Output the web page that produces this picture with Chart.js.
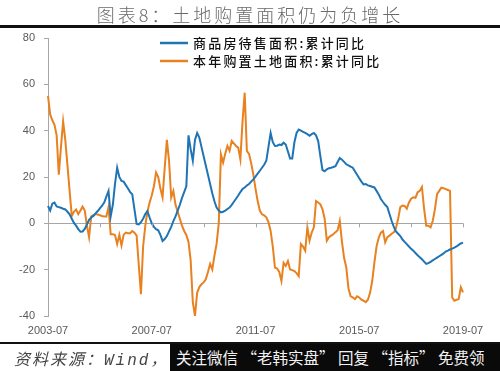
<!DOCTYPE html>
<html>
<head>
<meta charset="utf-8">
<script src="https://cdn.jsdelivr.net/npm/chart.js@4/dist/chart.umd.min.js"></script>
<style>
  html, body { margin:0; padding:0; background:#fff; }
  #wrap { position:relative; width:500px; height:371px; overflow:hidden; background:#fff; }
  #title { position:absolute; left:0; top:2px; width:500px; text-align:center; font-family:"Noto Sans CJK SC"; font-weight:300; font-size:18px; letter-spacing:3px; color:#6a6a6a; line-height:24px; }
  #topline { position:absolute; left:0; top:25px; width:500px; height:3px; background:#111; }
  #botline { position:absolute; left:0; top:342px; width:500px; height:2px; background:#111; }
  #source { position:absolute; left:14px; top:346px; font-family:"Noto Sans CJK SC"; font-style:italic; font-size:16px; color:#444; line-height:24px; letter-spacing:2px; }
  #source span { font-family:"Liberation Mono"; font-style:italic; }
  #wm { position:absolute; left:170px; top:344px; width:330px; height:27px; background:#0a0a0a; color:#f2f2f2; font-family:"Noto Sans CJK SC"; font-size:15.5px; line-height:27px; padding-left:6px; box-sizing:border-box; white-space:nowrap; }
  canvas { position:absolute; left:0; top:0; }
</style>
</head>
<body>
<div id="wrap">
  <canvas id="c" width="500" height="371"></canvas>
  <div id="title">图表8：土地购置面积仍为负增长</div>
  <div id="topline"></div>
  <div id="botline"></div>
  <div id="source">资料来源：<span>Wind</span>，</div>
  <div id="wm">关注微信 “老韩实盘” 回复 “指标” 免费领</div>
</div>
<script>
// Categories: monthly from 2003-07 to 2019-07
const startYear = 2003, startMonth = 7, monthCount = 193;
const categories = [];
for (let i = 0; i < monthCount; i++) {
  const t = startMonth - 1 + i;
  categories.push((startYear + Math.floor(t / 12)) + '-' + String(t % 12 + 1).padStart(2, '0'));
}
const tickLabels = ['2003-07', '2007-07', '2011-07', '2015-07', '2019-07'];
const yTicks = [80, 60, 40, 20, 0, -20, -40];

const seriesNames = ['商品房待售面积:累计同比', '本年购置土地面积:累计同比'];

const inventoryYoY = [
  7.5, 5.5, 8.5, 9, 7.3, 7, 6.7, 6.3, 6, 5,
  3.9, 2, 0.2, -1, -2.5, -3.6, -3.5, -2.4, -0.5, 1.5,
  2.5, 3.2, 4.3, 5.3, 6.5, 7.6, 9, 11.5, 14, 3,
  8, 17, 24, 20, 18.3, 18, 16.5, 15, 13.5, 12.5,
  6, -0.3, -0.5, 0.5, 2, 4, 5.3, 2.5, 0, -1.5,
  -2.5, -3, -5, -7.6, -6.8, -5.5, -3.5, -1.5, 1, 3,
  5.5, 8, 11, 13.5, 16, 38, 32, 27, 36, 39,
  37, 33, 29, 25, 21, 17, 13, 9.5, 6.8, 5.5,
  4.7, 5, 5.5, 6.2, 6.8, 8, 9.3, 10.6, 12, 13.5,
  14.8, 15.5, 16.3, 17, 18, 19, 20.2, 21.5, 22.7, 24,
  25.3, 27, 33, 39, 35, 33.4, 33.5, 34, 33.8, 34.8,
  34, 31, 28, 28, 35, 39, 40.5, 40, 39.5, 39,
  38.5, 37.8, 38.5, 39, 38, 35.5, 29, 23, 22.5, 23.3,
  23.8, 24, 24.3, 24.7, 26.5, 28.2, 27.5, 26.5, 25.5, 25,
  24.5, 24, 22.5, 21, 19.5, 18, 16.8, 17, 16.4, 16.1,
  15.8, 15.5, 14, 12.5, 10.5, 9.2, 8, 7, 4, 1,
  -1.5, -3.5, -4.5, -5.5, -7, -8, -9, -10, -11, -11.8,
  -12.8, -13.8, -14.6, -15.5, -16.5, -17.5, -17.2, -16.6, -16, -15.4,
  -14.8, -14.2, -13.6, -13, -12.2, -11.8, -11.3, -10.9, -10.5, -10,
  -9.3, -8.7, -8.3
];

const landPurchaseYoY = [
  55, 47, 44.5, 42.5, 38, 21, 33, 44, 36, 25,
  14, 3.2, 5, 6, 4, 5.5, 7.2, 5.5, -1, -6,
  3, 3.5, 4, 3.8, 3.5, 3.2, 3, 3, 7, -4.7,
  -4.7, -5, -8.9, -5, -9.6, -5, -4, -4.3, -4.3, -3.3,
  -4, -5.3, -18, -30.6, -10, -1.1, 5, 9, 12, 16,
  21.9, 20, 15, 11.2, 24, 36, 27, 11.2, 14, 8,
  5, 2, -1, -3.3, -5, -8, -16, -34, -40, -30,
  -27.5, -26.3, -25.5, -24.2, -21, -17.5, -19.9, -14, -8.9, 0,
  29.8, 26.2, 30, 33.4, 31.3, 35.6, 34.5, 33.4, 32.7, 27.6,
  44, 56.4, 31.3, 30, 26, 21, 15, 9.6, 5.5, 3.9,
  3.5, 2.6, 0.5, -3.3, -10, -19.1, -19.5, -21, -24.9, -17,
  -18.4, -16.3, -19.9, -20.2, -20.6, -21.5, -22.8, -8.9, -10, -11.8,
  -1.7, -7.5, -4, -1.7, 9.6, 9, 8.2, 6, 2, -7.5,
  -6, -5.3, -4.7, -3.8, -3, 1, -8, -15, -19, -28,
  -31.5, -32, -32.7, -31.5, -32, -33, -33.4, -34, -33, -30,
  -24.9, -17, -10, -6.2, -4, -3.3, -8.2, -6, -5.3, -4.5,
  -3.9, -2, 2, 7, 7.7, 7.5, 6.3, 9, 10.6, 11.2,
  11, 13.4, 14, 15.7, 6.3, -1, -1, -1.7, 1, 6,
  12.6, 14, 15.4, 15.2, 14.8, 14.4, 14, -32, -33.4, -33,
  -32.7, -27.6, -29.8
];

const seriesColors = ['#1f74b6', '#e8811f'];

const legendPlugin = {
  id: 'insideLegend',
  afterDraw(chart) {
    const ctx = chart.ctx;
    ctx.save();
    chart.data.datasets.forEach((ds, i) => {
      const y = 43 + i * 18;
      ctx.strokeStyle = ds.borderColor;
      ctx.lineWidth = 2.5;
      ctx.beginPath();
      ctx.moveTo(160, y);
      ctx.lineTo(188, y);
      ctx.stroke();
      ctx.fillStyle = '#111';
      ctx.font = '500 13px "Noto Sans CJK SC"';
      ctx.textBaseline = 'middle';
      ctx.textAlign = 'left';
      if ('letterSpacing' in ctx) ctx.letterSpacing = '2.2px';
      ctx.fillText(ds.label, 193, y);
    });
    ctx.restore();
  }
};

const zeroTicksPlugin = {
  id: 'zeroTicks',
  afterDatasetsDraw(chart) {
    const xs = chart.scales.x, ys = chart.scales.y;
    const y0 = ys.getPixelForValue(0);
    const ctx = chart.ctx;
    ctx.save();
    ctx.strokeStyle = '#a6a6a6';
    ctx.lineWidth = 1;
    for (let i = 24; i < categories.length; i += 24) {
      const x = Math.round(xs.getPixelForValue(i)) + 0.5;
      ctx.beginPath();
      ctx.moveTo(x, y0);
      ctx.lineTo(x, y0 + 4);
      ctx.stroke();
    }
    ctx.restore();
  }
};

new Chart(document.getElementById('c'), {
  type: 'line',
  data: {
    labels: categories,
    datasets: [
      { label: seriesNames[0], data: inventoryYoY, borderColor: seriesColors[0], backgroundColor: seriesColors[0], borderWidth: 2, pointRadius: 0, tension: 0, fill: false },
      { label: seriesNames[1], data: landPurchaseYoY, borderColor: seriesColors[1], backgroundColor: seriesColors[1], borderWidth: 2, pointRadius: 0, tension: 0, fill: false }
    ]
  },
  options: {
    responsive: false,
    animation: false,
    devicePixelRatio: 1,
    layout: { padding: { left: 0, right: 37, top: 38, bottom: 0 } },
    plugins: { legend: { display: false }, tooltip: { enabled: false } },
    scales: {
      x: {
        type: 'category',
        offset: false,
        grid: { display: false, drawTicks: false },
        border: { display: false },
        ticks: {
          autoSkip: false,
          maxRotation: 0,
          minRotation: 0,
          padding: 8,
          color: '#595959',
          font: { family: '"Liberation Sans"', size: 11 },
          callback: function (v) {
            const l = this.getLabelForValue(v);
            return tickLabels.includes(l) ? l : '';
          }
        },
        afterFit: (s) => { s.height = 55; }
      },
      y: {
        min: -40, max: 80,
        afterBuildTicks: (s) => { s.ticks = yTicks.map(v => ({ value: v })); },
        grid: {
          color: (c) => (c.tick && c.tick.value === 0) ? '#a6a6a6' : 'rgba(0,0,0,0)',
          tickColor: '#a6a6a6',
          tickLength: 4,
          lineWidth: 1
        },
        border: { display: true, color: '#a6a6a6' },
        ticks: {
          padding: 9,
          color: '#595959',
          font: { family: '"Liberation Sans"', size: 11 }
        },
        afterFit: (s) => { s.width = 48; }
      }
    }
  },
  plugins: [legendPlugin, zeroTicksPlugin]
});
</script>
</body>
</html>
